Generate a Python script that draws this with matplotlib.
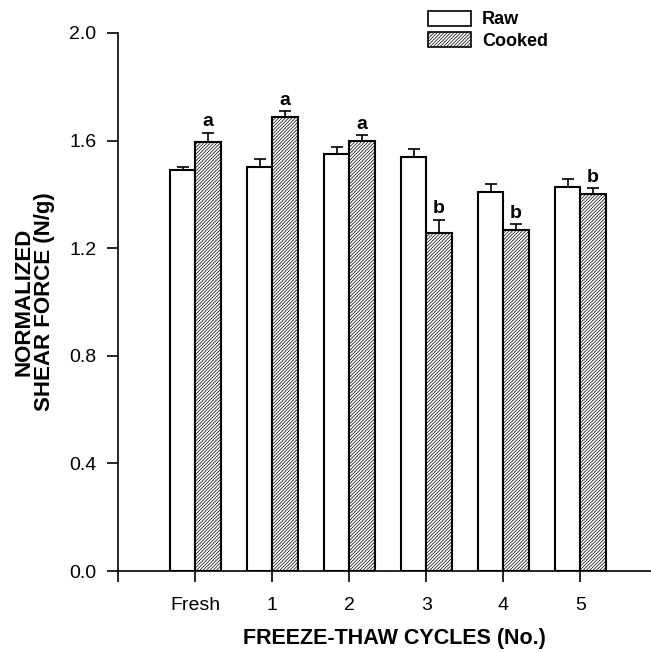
import numpy as np
import matplotlib.pyplot as plt
from matplotlib.patches import Patch

plt.rcParams['font.family'] = ['Liberation Sans', 'DejaVu Sans']
plt.rcParams['hatch.linewidth'] = 0.5

cycles = ["Fresh", "1", "2", "3", "4", "5"]
raw = [1.492, 1.500, 1.550, 1.539, 1.409, 1.426]
raw_err = [0.009, 0.030, 0.028, 0.028, 0.030, 0.030]
cooked = [1.593, 1.689, 1.598, 1.257, 1.269, 1.403]
cooked_err = [0.037, 0.020, 0.021, 0.049, 0.020, 0.019]
letters = ["a", "a", "a", "b", "b", "b"]

fig = plt.figure(figsize=(6.51, 6.52), dpi=100)
ax = fig.add_axes([0.182, 0.1242, 0.818, 0.8252])

x = np.arange(1, len(cycles) + 1)
w = 0.33
hatch = "/" * 10
ekw = dict(ecolor="black", elinewidth=1.2, capsize=4.5, capthick=1.2)
ax.bar(x - w / 2, raw, w, color="white", edgecolor="black", linewidth=1.5,
       yerr=[np.zeros(len(raw)), raw_err], error_kw=ekw)
ax.bar(x + w / 2, cooked, w, color="white", edgecolor="black", linewidth=1.5, hatch=hatch,
       yerr=[np.zeros(len(cooked)), cooked_err], error_kw=ekw)

for xi, c, e, l in zip(x, cooked, cooked_err, letters):
    ax.text(xi + w / 2, c + e + 0.01, l, ha="center", va="bottom", fontsize=14, fontweight="bold")

ax.set_xlim(0, 6.92)
ax.set_ylim(0, 2.0)
ax.set_yticks([0.0, 0.4, 0.8, 1.2, 1.6, 2.0])
ax.set_yticklabels(["0.0", "0.4", "0.8", "1.2", "1.6", "2.0"])
ax.set_xticks(range(0, 7))
ax.set_xticklabels([""] + cycles)
ax.tick_params(axis="both", direction="out", length=8, width=1.2, labelsize=14, pad=8)
ax.tick_params(axis="x", pad=11)
ax.spines["top"].set_visible(False)
ax.spines["right"].set_visible(False)
ax.spines["left"].set_linewidth(1.2)
ax.spines["bottom"].set_linewidth(1.2)
ax.spines["left"].set_bounds(0, 2.0)

ax.set_xlabel("FREEZE-THAW CYCLES (No.)", fontsize=15.5, fontweight="bold", labelpad=12)
ax.xaxis.set_label_coords(0.518, -0.105)
ax.set_ylabel("NORMALIZED\nSHEAR FORCE (N/g)", fontsize=16, fontweight="bold", labelpad=10,
              linespacing=1.0)

handles = [Patch(facecolor="white", edgecolor="black", linewidth=1.2),
           Patch(facecolor="white", edgecolor="black", linewidth=1.2, hatch=hatch)]
leg = fig.legend(handles, ["Raw", "Cooked"], loc="upper left", bbox_to_anchor=(0.638, 1.003),
                 frameon=False, prop=dict(size=13, weight="bold"), handlelength=2.4,
                 handleheight=0.9, handletextpad=0.6, labelspacing=0.2, borderpad=0.2)

fig.savefig("out.png", dpi=100)
